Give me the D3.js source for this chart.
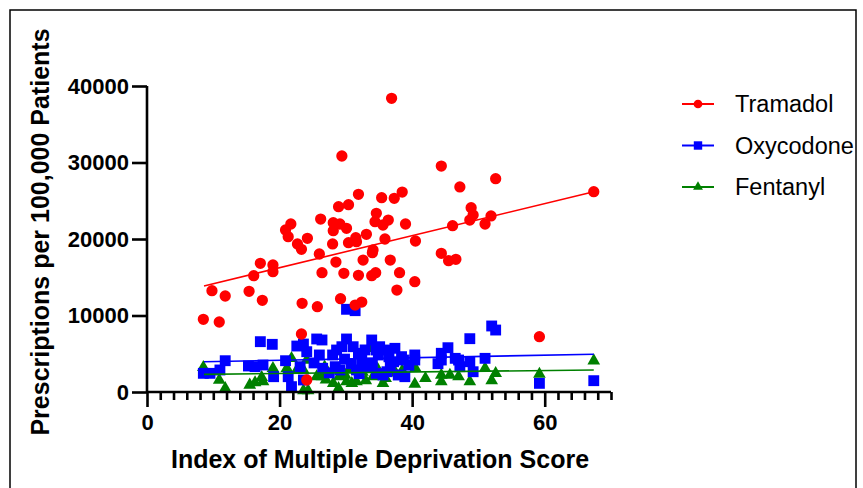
<!DOCTYPE html>
<html>
<head>
<meta charset="utf-8">
<script src="https://cdn.jsdelivr.net/npm/d3@7"></script>
<style>
  body { margin: 0; background: #fff; }
  text { font-family: "Liberation Sans", Arial, sans-serif; }
</style>
</head>
<body>
<svg id="chart" width="863" height="488"></svg>
<script>
// Data: [IMD score, prescriptions per 100,000]
const tramadol = [
  [8.5, 9500], [10.9, 9150], [9.8, 13240], [11.8, 12550], [15.4, 13160], [17.4, 11980],
  [16.1, 15200], [17.1, 16820], [19.0, 16600], [19.0, 15730], [21.7, 21960], [20.9, 21180],
  [21.3, 20300], [24.2, 20090], [22.7, 19350], [23.3, 18650], [23.4, 11590], [25.7, 11150],
  [23.3, 7580], [24.1, 1570], [26.2, 22610], [26.4, 15600], [26.0, 18040], [28.1, 22130],
  [29.1, 21960], [30.1, 21400], [28.1, 21090], [28.0, 19350], [28.5, 16990], [28.9, 24220],
  [29.4, 30850], [30.4, 24490], [30.4, 19520], [31.5, 20170], [31.6, 19650], [29.7, 15510],
  [29.2, 12200], [31.4, 11370], [32.4, 11760], [31.9, 25840], [31.9, 15250], [32.6, 17250],
  [33.1, 20610], [34.0, 18210], [33.9, 15200], [34.5, 15600], [34.1, 18560], [34.6, 23360],
  [34.4, 22260], [35.4, 25400], [35.6, 21830], [36.4, 22480], [35.9, 20000], [36.9, 38390],
  [37.3, 25320], [38.5, 26140], [39.0, 21960], [36.7, 17250], [38.1, 15600], [37.7, 13330],
  [40.5, 19740], [40.4, 14420], [44.4, 29540], [44.4, 18130], [45.5, 17160], [46.6, 17340],
  [46.1, 21740], [47.2, 26800], [48.9, 24090], [49.2, 23140], [48.7, 22480], [51.9, 23010],
  [51.0, 21960], [52.6, 27890], [59.2, 7230], [67.4, 26180]
];
const oxycodone = [
  [8.5, 2440], [9.5, 2440], [11.0, 2880], [11.8, 4090], [15.3, 3400], [16.3, 3310],
  [17.1, 6580], [17.5, 3530], [18.9, 6230], [19.1, 2000], [20.9, 4090], [21.3, 2000],
  [21.8, 700], [22.6, 6010], [23.6, 6270], [24.1, 5270], [23.1, 3310], [23.6, 1570],
  [25.6, 6930], [26.4, 6800], [26.0, 4840], [26.5, 3100], [28.0, 4840], [28.6, 5490],
  [29.4, 5920], [30.1, 6930], [29.1, 2880], [28.4, 3310], [31.1, 5920], [31.9, 5060],
  [32.4, 4180], [31.6, 2880], [33.1, 3310], [33.9, 6800], [34.6, 5490], [34.6, 2440],
  [30.1, 10810], [31.4, 10630], [35.1, 5920], [35.9, 5490], [34.9, 4840], [37.4, 5710],
  [38.4, 4620], [38.7, 4180], [37.2, 3960], [36.7, 3310], [36.2, 2650], [35.6, 2220],
  [37.9, 2220], [38.9, 2000], [40.4, 4840], [40.4, 4180], [44.4, 5060], [45.4, 5790],
  [44.4, 4180], [46.5, 4400], [47.0, 4180], [47.2, 3310], [48.7, 6970], [48.7, 3960],
  [49.2, 2650], [51.0, 4400], [52.0, 8630], [52.6, 8100], [59.2, 1130], [67.4, 1480],
  [29.8, 4300], [32.9, 5500], [36.5, 4600], [34.0, 3800], [30.8, 3700], [25.2, 3800],
  [39.5, 3500], [43.9, 3700], [27.5, 2500], [32.0, 2400]
];
const fentanyl = [
  [8.5, 3230], [10.9, 1570], [11.8, 480], [15.5, 920], [16.3, 1220], [17.3, 1920],
  [17.5, 1350], [19.0, 3100], [21.1, 3100], [21.8, 4400], [22.6, 2880], [23.6, 200],
  [24.3, 200], [24.1, 4180], [23.6, 2880], [25.6, 2000], [26.4, 2000], [28.1, 1130],
  [28.9, 480], [29.9, 2220], [30.1, 1350], [30.9, 1130], [31.6, 1350], [33.9, 5710],
  [34.1, 2000], [35.6, 1130], [37.5, 2500], [40.5, 3100], [40.4, 1050], [44.4, 2220],
  [44.4, 1350], [45.7, 2220], [47.0, 2000], [48.7, 1350], [51.0, 3100], [52.6, 2440],
  [52.0, 1480], [59.2, 2350], [67.4, 4090], [27.0, 1600], [32.5, 2600], [36.0, 1800],
  [38.5, 2800], [42.0, 1800], [30.5, 2900], [26.8, 3300], [34.8, 3000], [29.0, 2000],
  [33.0, 1500]
];

// Linear fit end points, as drawn in the reference
const tramadolFit = [[8.6, 13860], [67.4, 26180]];
const oxycodoneFit = [[8.6, 3960], [67.4, 4930]];
const fentanylFit = [[8.6, 2310], [67.4, 2880]];

const seriesNames = ["Tramadol", "Oxycodone", "Fentanyl"];
const xTicks = [0, 20, 40, 60];
const yTicks = [0, 10000, 20000, 30000, 40000];

const svg = d3.select("#chart");

// outer frame
svg.append("rect")
    .attr("x", 10).attr("y", 10)
    .attr("width", 846).attr("height", 500)
    .attr("fill", "none")
    .attr("stroke", "#000")
    .attr("stroke-width", 1.5);

const x = d3.scaleLinear().domain([0, 70]).range([147, 611]);
const y = d3.scaleLinear().domain([0, 40000]).range([392, 86]);

const series = [
    { name: "Fentanyl", data: fentanyl, fit: fentanylFit, color: "#008000", symbol: d3.symbolTriangle, size: 70 },
    { name: "Oxycodone", data: oxycodone, fit: oxycodoneFit, color: "#0000ff", symbol: d3.symbolSquare, size: 118 },
    { name: "Tramadol", data: tramadol, fit: tramadolFit, color: "#ff0000", symbol: d3.symbolCircle, size: 100 }
];

// points (green below, red on top)
series.forEach(s => {
    svg.append("g")
        .selectAll("path")
        .data(s.data)
        .join("path")
        .attr("transform", d => `translate(${x(d[0])},${y(d[1])})`)
        .attr("d", d3.symbol().type(s.symbol).size(s.size))
        .attr("fill", s.color);
});

// fit lines
const line = d3.line().x(d => x(d[0])).y(d => y(d[1]));
series.forEach(s => {
    svg.append("path")
        .datum(s.fit)
        .attr("d", line)
        .attr("fill", "none")
        .attr("stroke", s.color)
        .attr("stroke-width", 1.6);
});

// axes
const xAxis = svg.append("g")
    .attr("transform", `translate(0,${y(0)})`)
    .call(d3.axisBottom(x).tickValues(d3.range(0, 71, 2)).tickSize(8).tickFormat(""));
xAxis.selectAll(".tick line")
    .attr("y2", d => d % 20 === 0 ? 15 : 8);
xAxis.selectAll(".tick")
    .filter(d => xTicks.includes(d))
    .append("text")
    .attr("y", 38)
    .attr("fill", "#000")
    .attr("text-anchor", "middle")
    .style("font-size", "22px")
    .style("font-weight", "bold")
    .text(d => d);

const yAxis = svg.append("g")
    .attr("transform", `translate(${x(0)},0)`)
    .call(d3.axisLeft(y).tickValues(yTicks).tickFormat(d3.format("d"))
        .tickSize(15).tickPadding(3).tickSizeOuter(0));
yAxis.selectAll(".tick text")
    .style("font-size", "22px")
    .style("font-weight", "bold")
    .attr("fill", "#000");

svg.selectAll(".domain, .tick line")
    .attr("stroke", "#000")
    .attr("stroke-width", 2.6);
xAxis.select(".domain").attr("d", `M${x(0)},0H${x(70)}`);
yAxis.select(".domain").attr("d", `M0,${y(40000)}V${y(0)}`);

// axis titles
svg.append("text")
    .attr("x", 380).attr("y", 468)
    .attr("text-anchor", "middle")
    .style("font-size", "25px")
    .style("font-weight", "bold")
    .text("Index of Multiple Deprivation Score");

svg.append("text")
    .attr("transform", "translate(49,232) rotate(-90)")
    .attr("text-anchor", "middle")
    .style("font-size", "25px")
    .style("font-weight", "bold")
    .text("Prescriptions per 100,000 Patients");

// legend
const legendSeries = seriesNames.map(n => series.find(s => s.name === n));
const legend = svg.append("g")
    .selectAll("g")
    .data(legendSeries)
    .join("g")
    .attr("transform", (d, i) => `translate(682,${104 + i * 41.5})`);
legend.append("line")
    .attr("x1", 0).attr("x2", 32)
    .attr("stroke", d => d.color)
    .attr("stroke-width", 2);
legend.append("path")
    .attr("transform", "translate(16,0)")
    .attr("d", d => d3.symbol().type(d.symbol).size(d.size * 0.6)())
    .attr("fill", d => d.color);
legend.append("text")
    .attr("x", 53).attr("y", 8)
    .style("font-size", "23.5px")
    .text(d => d.name);
</script>
</body>
</html>
